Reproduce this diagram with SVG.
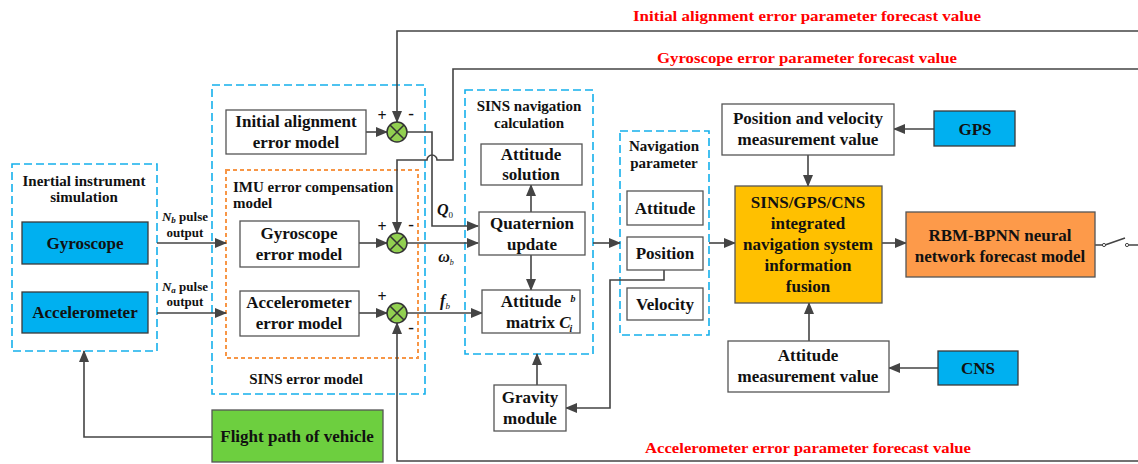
<svg xmlns="http://www.w3.org/2000/svg" width="1138" height="464" viewBox="0 0 1138 464">
  <style>
    text { font-family: 'Liberation Serif', 'DejaVu Serif', serif; }
    .t { font-weight: bold; fill: #111; text-anchor: middle; }
    .n { font-size: 17px; }
    .s { font-size: 15px; }
    .red { font-weight: bold; fill: #ff0000; text-anchor: middle; font-size: 15px; }
    .box { fill: #fff; stroke: #555; stroke-width: 1.3; }
    .blue { fill: #00b0f0; stroke: #3a3a3a; stroke-width: 1.3; }
    .dash { fill: none; stroke: #14b0ec; stroke-width: 1.6; stroke-dasharray: 8 4; }
    .dot { fill: none; stroke: #f79646; stroke-width: 2; stroke-dasharray: 4 3; }
    .ln { fill: none; stroke: #444; stroke-width: 1.6; }
    .arr { marker-end: url(#ah); }
    .sum { fill: #92d050; stroke: #333; stroke-width: 1.5; }
  </style>
  <defs>
    <marker id="ah" markerUnits="userSpaceOnUse" markerWidth="12" markerHeight="10" refX="11" refY="5" orient="auto">
      <path d="M0,0 L12,5 L0,10 Z" fill="#444"/>
    </marker>
    <g id="sumj">
      <circle r="10" class="sum"/>
      <path d="M-7,-7 L7,7 M-7,7 L7,-7" stroke="#333" stroke-width="1.5"/>
    </g>
  </defs>
  <rect width="1138" height="464" fill="#fff"/>

  <!-- group frames -->
  <g id="frames">
    <rect class="dash" x="12" y="164" width="145" height="187"/>
    <rect class="dash" x="212" y="85" width="213" height="309"/>
    <rect class="dot" x="226" y="170" width="192" height="188"/>
    <rect class="dash" x="465" y="90" width="128" height="264"/>
    <rect class="dash" x="620" y="131" width="89" height="204"/>
    <text class="t s" x="84" y="186">Inertial instrument</text>
    <text class="t s" x="84" y="202">simulation</text>
    <text class="t s" x="306" y="384">SINS error model</text>
    <text class="t s" x="233" y="192" style="text-anchor:start">IMU error compensation</text>
    <text class="t s" x="233" y="208" style="text-anchor:start">model</text>
    <text class="t s" x="529" y="111">SINS navigation</text>
    <text class="t s" x="529" y="128">calculation</text>
    <text class="t s" x="664" y="151">Navigation</text>
    <text class="t s" x="664" y="168">parameter</text>
  </g>

  <!-- connectors -->
  <g id="connectors">
    <!-- inertial outputs -->
    <path class="ln arr" d="M157,243 H226"/>
    <path class="ln arr" d="M157,313 H226"/>
    <!-- model outputs into summing junctions -->
    <path class="ln arr" d="M366,132 H387"/>
    <path class="ln arr" d="M359,243 H387"/>
    <path class="ln arr" d="M359,313 H387"/>
    <!-- forecast feedback lines -->
    <path class="ln arr" d="M1138,31 H397 V122"/>
    <path class="ln arr" d="M1138,69 H453 V160 H437 A5,5 0 0 0 427,160 H397 V233"/>
    <path class="ln arr" d="M1138,461 H397 V323"/>
    <!-- junction outputs -->
    <path class="ln arr" d="M407,132 H432 V226 H478"/>
    <path class="ln arr" d="M407,243 H478"/>
    <path class="ln arr" d="M407,313 H482"/>
    <!-- SINS navigation internals -->
    <path class="ln arr" d="M531,212 V185"/>
    <path class="ln arr" d="M531,255 V290"/>
    <path class="ln arr" d="M537,385 V354"/>
    <path class="ln arr" d="M593,243 H620"/>
    <path class="ln arr" d="M664,270 V280 H610 V408 H566"/>
    <path class="ln arr" d="M709,243 H735"/>
    <!-- measurement paths -->
    <path class="ln arr" d="M934,129 H894"/>
    <path class="ln arr" d="M808,155 V186"/>
    <path class="ln arr" d="M938,368 H889"/>
    <path class="ln arr" d="M809,341 V303"/>
    <path class="ln arr" d="M882,243 H906"/>
    <!-- flight path feed -->
    <path class="ln arr" d="M212,437 H84 V351"/>
    <!-- output switch -->
    <path class="ln" d="M1095,245 H1103 M1105,245 L1125,238 M1129,245 H1138"/>
    <circle cx="1104" cy="245" r="1.6" fill="#fff" stroke="#444" stroke-width="1"/>
    <circle cx="1127" cy="245" r="1.6" fill="#fff" stroke="#444" stroke-width="1"/>
  </g>

  <!-- connector labels -->
  <g id="labels">
    <text class="t" x="185" y="221" font-size="13"><tspan font-style="italic">N</tspan><tspan font-style="italic" font-size="9" dy="2">b</tspan><tspan dy="-2"> pulse</tspan></text>
    <text class="t" x="185" y="237" font-size="13">output</text>
    <text class="t" x="185" y="291" font-size="13"><tspan font-style="italic">N</tspan><tspan font-style="italic" font-size="9" dy="2">a</tspan><tspan dy="-2"> pulse</tspan></text>
    <text class="t" x="185" y="306" font-size="13">output</text>
    <text class="t" x="445" y="215" font-size="16"><tspan font-style="italic">Q</tspan><tspan font-size="9" font-weight="normal" dy="3">0</tspan></text>
    <text class="t" x="446" y="262" font-size="16"><tspan font-style="italic">ω</tspan><tspan font-size="8" font-weight="normal" font-style="italic" dy="3">b</tspan></text>
    <text class="t" x="445" y="306" font-size="16"><tspan font-style="italic">f</tspan><tspan font-size="9" font-weight="normal" font-style="italic" dy="3">b</tspan></text>
    <text class="t" x="382" y="121" font-size="16" font-weight="normal">+</text>
    <text class="t" x="411" y="119" font-size="17">-</text>
    <text class="t" x="382" y="232" font-size="16" font-weight="normal">+</text>
    <text class="t" x="411" y="230" font-size="17">-</text>
    <text class="t" x="382" y="302" font-size="16" font-weight="normal">+</text>
    <text class="t" x="411" y="333" font-size="17">-</text>
    <text class="red" x="807" y="21" textLength="348" lengthAdjust="spacingAndGlyphs">Initial alignment  error  parameter forecast value</text>
    <text class="red" x="807" y="63" textLength="300" lengthAdjust="spacingAndGlyphs">Gyroscope  error parameter forecast value</text>
    <text class="red" x="808" y="453" textLength="326" lengthAdjust="spacingAndGlyphs">Accelerometer  error parameter forecast value</text>
  </g>

  <!-- summing junctions -->
  <g id="sum-alignment"><use href="#sumj" x="397" y="132"/></g>
  <g id="sum-gyro"><use href="#sumj" x="397" y="243"/></g>
  <g id="sum-accel"><use href="#sumj" x="397" y="313"/></g>

  <!-- nodes -->
  <g id="gyroscope">
    <rect class="blue" x="22" y="222" width="126" height="42"/>
    <text class="t n" x="85" y="249">Gyroscope</text>
  </g>
  <g id="accelerometer">
    <rect class="blue" x="22" y="292" width="126" height="41"/>
    <text class="t n" x="85" y="318">Accelerometer</text>
  </g>
  <g id="initial-alignment-model">
    <rect class="box" x="226" y="110" width="140" height="44"/>
    <text class="t n" x="296" y="127">Initial alignment</text>
    <text class="t n" x="296" y="148">error model</text>
  </g>
  <g id="gyroscope-model">
    <rect class="box" x="240" y="221" width="119" height="46"/>
    <text class="t n" x="299" y="239">Gyroscope</text>
    <text class="t n" x="299" y="260">error model</text>
  </g>
  <g id="accelerometer-model">
    <rect class="box" x="240" y="291" width="119" height="45"/>
    <text class="t n" x="299" y="308">Accelerometer</text>
    <text class="t n" x="299" y="329">error model</text>
  </g>
  <g id="attitude-solution">
    <rect class="box" x="481" y="144" width="101" height="41"/>
    <text class="t n" x="531" y="160">Attitude</text>
    <text class="t n" x="531" y="180">solution</text>
  </g>
  <g id="quaternion-update">
    <rect class="box" x="479" y="212" width="106" height="43"/>
    <text class="t n" x="532" y="229">Quaternion</text>
    <text class="t n" x="532" y="250">update</text>
  </g>
  <g id="attitude-matrix">
    <rect class="box" x="482" y="290" width="98" height="43"/>
    <text class="t n" x="531" y="307">Attitude</text>
    <text class="t n" x="506" y="328" style="text-anchor:start">matrix <tspan font-style="italic">C</tspan></text>
    <text class="t" x="573" y="302" font-size="10" font-weight="normal" font-style="italic">b</text>
    <text class="t" x="571" y="332" font-size="10" font-weight="normal" font-style="italic">i</text>
  </g>
  <g id="gravity-module">
    <rect class="box" x="494" y="385" width="72" height="46"/>
    <text class="t n" x="530" y="403">Gravity</text>
    <text class="t n" x="530" y="424">module</text>
  </g>
  <g id="nav-attitude">
    <rect class="box" x="627" y="191" width="76" height="34"/>
    <text class="t n" x="665" y="214">Attitude</text>
  </g>
  <g id="nav-position">
    <rect class="box" x="627" y="237" width="76" height="33"/>
    <text class="t n" x="665" y="259">Position</text>
  </g>
  <g id="nav-velocity">
    <rect class="box" x="627" y="288" width="76" height="32"/>
    <text class="t n" x="665" y="310">Velocity</text>
  </g>
  <g id="pos-vel-measurement">
    <rect class="box" x="722" y="104" width="172" height="51"/>
    <text class="t n" x="808" y="124">Position and  velocity</text>
    <text class="t n" x="808" y="145">measurement value</text>
  </g>
  <g id="gps">
    <rect class="blue" x="934" y="111" width="81" height="35"/>
    <text class="t n" x="975" y="135">GPS</text>
  </g>
  <g id="fusion">
    <rect x="735" y="186" width="147" height="117" fill="#ffc000" stroke="#555" stroke-width="1.3"/>
    <text class="t n" x="808" y="208">SINS/GPS/CNS</text>
    <text class="t n" x="808" y="229">integrated</text>
    <text class="t n" x="808" y="250">navigation system</text>
    <text class="t n" x="808" y="271">information</text>
    <text class="t n" x="808" y="292">fusion</text>
  </g>
  <g id="rbm-bpnn">
    <rect x="906" y="212" width="189" height="65" fill="#fd9a4a" stroke="#555" stroke-width="1.3"/>
    <text class="t n" x="1000" y="241">RBM-BPNN neural</text>
    <text class="t n" x="1000" y="262">network forecast model</text>
  </g>
  <g id="attitude-measurement">
    <rect class="box" x="728" y="341" width="161" height="51"/>
    <text class="t n" x="808" y="361">Attitude</text>
    <text class="t n" x="808" y="382">measurement value</text>
  </g>
  <g id="cns">
    <rect class="blue" x="938" y="351" width="80" height="34"/>
    <text class="t n" x="978" y="374">CNS</text>
  </g>
  <g id="flight-path">
    <rect x="212" y="410" width="171" height="52" fill="#6dcf3f" stroke="#555" stroke-width="1.3"/>
    <text class="t n" x="297" y="442">Flight path of vehicle</text>
  </g>
</svg>
